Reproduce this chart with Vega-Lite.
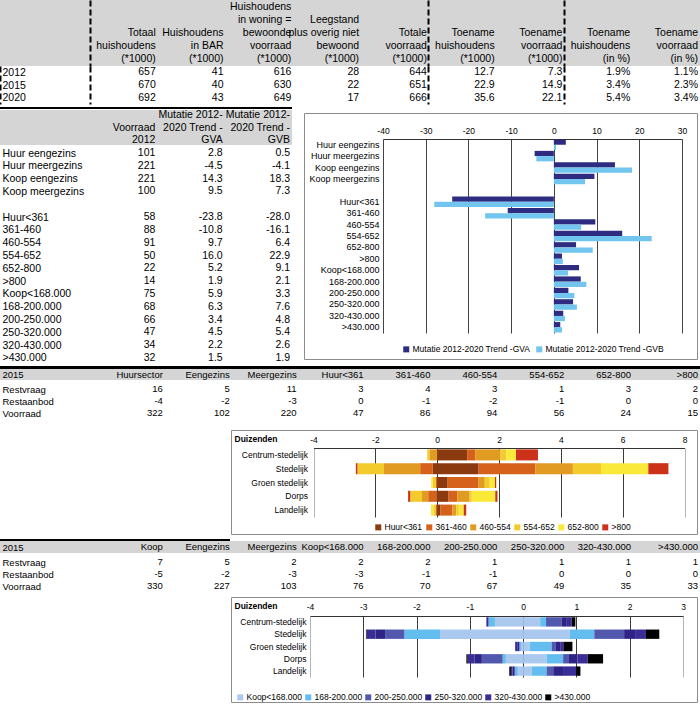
{
"$schema":"https://vega.github.io/schema/vega-lite/v6.json",
"padding":0,
"background":"white",
"spacing":0,
"resolve":{"scale":{"color":"independent"},"legend":{"color":"independent"}},
"config":{"view":{"stroke":null},"font":"Liberation Sans","axis":{"labelFont":"Liberation Sans","titleFont":"Liberation Sans"},"legend":{"labelFont":"Liberation Sans"}},
"datasets":{
"leeg":[],
"t1h":[
{"line":3,"c":"tot","t":"Totaal"},{"line":4,"c":"tot","t":"huishoudens"},{"line":5,"c":"tot","t":"(*1000)"},
{"line":3,"c":"bar","t":"Huishoudens"},{"line":4,"c":"bar","t":"in BAR"},{"line":5,"c":"bar","t":"(*1000)"},
{"line":1,"c":"won","t":"Huishoudens"},{"line":2,"c":"won","t":"in woning ="},{"line":3,"c":"won","t":"bewoonde"},{"line":4,"c":"won","t":"voorraad"},{"line":5,"c":"won","t":"(*1000)"},
{"line":2,"c":"leeg","t":"Leegstand"},{"line":3,"c":"leeg","t":"plus overig niet"},{"line":4,"c":"leeg","t":"bewoond"},{"line":5,"c":"leeg","t":"(*1000)"},
{"line":3,"c":"totv","t":"Totale"},{"line":4,"c":"totv","t":"voorraad"},{"line":5,"c":"totv","t":"(*1000)"},
{"line":3,"c":"th","t":"Toename"},{"line":4,"c":"th","t":"huishoudens"},{"line":5,"c":"th","t":"(*1000)"},
{"line":3,"c":"tv","t":"Toename"},{"line":4,"c":"tv","t":"voorraad"},{"line":5,"c":"tv","t":"(*1000)"},
{"line":3,"c":"thp","t":"Toename"},{"line":4,"c":"thp","t":"huishoudens"},{"line":5,"c":"thp","t":"(in %)"},
{"line":3,"c":"tvp","t":"Toename"},{"line":4,"c":"tvp","t":"voorraad"},{"line":5,"c":"tvp","t":"(in %)"}],
"t1b":[
{"r":"2012","c":"tot","t":"657"},{"r":"2012","c":"bar","t":"41"},{"r":"2012","c":"won","t":"616"},{"r":"2012","c":"leeg","t":"28"},{"r":"2012","c":"totv","t":"644"},{"r":"2012","c":"th","t":"12.7"},{"r":"2012","c":"tv","t":"7.3"},{"r":"2012","c":"thp","t":"1.9%"},{"r":"2012","c":"tvp","t":"1.1%"},
{"r":"2015","c":"tot","t":"670"},{"r":"2015","c":"bar","t":"40"},{"r":"2015","c":"won","t":"630"},{"r":"2015","c":"leeg","t":"22"},{"r":"2015","c":"totv","t":"651"},{"r":"2015","c":"th","t":"22.9"},{"r":"2015","c":"tv","t":"14.9"},{"r":"2015","c":"thp","t":"3.4%"},{"r":"2015","c":"tvp","t":"2.3%"},
{"r":"2020","c":"tot","t":"692"},{"r":"2020","c":"bar","t":"43"},{"r":"2020","c":"won","t":"649"},{"r":"2020","c":"leeg","t":"17"},{"r":"2020","c":"totv","t":"666"},{"r":"2020","c":"th","t":"35.6"},{"r":"2020","c":"tv","t":"22.1"},{"r":"2020","c":"thp","t":"5.4%"},{"r":"2020","c":"tvp","t":"3.4%"}],
"t2h":[
{"line":2,"c":"v","t":"Voorraad"},{"line":3,"c":"v","t":"2012"},
{"line":1,"c":"gva","t":"Mutatie 2012-"},{"line":2,"c":"gva","t":"2020 Trend -"},{"line":3,"c":"gva","t":"GVA"},
{"line":1,"c":"gvb","t":"Mutatie 2012-"},{"line":2,"c":"gvb","t":"2020 Trend -"},{"line":3,"c":"gvb","t":"GVB"}],
"t2b":[
{"r":"Huur eengezins","c":"v","t":"101"},{"r":"Huur eengezins","c":"gva","t":"2.8"},{"r":"Huur eengezins","c":"gvb","t":"0.5"},
{"r":"Huur meergezins","c":"v","t":"221"},{"r":"Huur meergezins","c":"gva","t":"-4.5"},{"r":"Huur meergezins","c":"gvb","t":"-4.1"},
{"r":"Koop eengezins","c":"v","t":"221"},{"r":"Koop eengezins","c":"gva","t":"14.3"},{"r":"Koop eengezins","c":"gvb","t":"18.3"},
{"r":"Koop meergezins","c":"v","t":"100"},{"r":"Koop meergezins","c":"gva","t":"9.5"},{"r":"Koop meergezins","c":"gvb","t":"7.3"},
{"r":"Huur<361","c":"v","t":"58"},{"r":"Huur<361","c":"gva","t":"-23.8"},{"r":"Huur<361","c":"gvb","t":"-28.0"},
{"r":"361-460","c":"v","t":"88"},{"r":"361-460","c":"gva","t":"-10.8"},{"r":"361-460","c":"gvb","t":"-16.1"},
{"r":"460-554","c":"v","t":"91"},{"r":"460-554","c":"gva","t":"9.7"},{"r":"460-554","c":"gvb","t":"6.4"},
{"r":"554-652","c":"v","t":"50"},{"r":"554-652","c":"gva","t":"16.0"},{"r":"554-652","c":"gvb","t":"22.9"},
{"r":"652-800","c":"v","t":"22"},{"r":"652-800","c":"gva","t":"5.2"},{"r":"652-800","c":"gvb","t":"9.1"},
{"r":">800","c":"v","t":"14"},{"r":">800","c":"gva","t":"1.9"},{"r":">800","c":"gvb","t":"2.1"},
{"r":"Koop<168.000","c":"v","t":"75"},{"r":"Koop<168.000","c":"gva","t":"5.9"},{"r":"Koop<168.000","c":"gvb","t":"3.3"},
{"r":"168-200.000","c":"v","t":"68"},{"r":"168-200.000","c":"gva","t":"6.3"},{"r":"168-200.000","c":"gvb","t":"7.6"},
{"r":"200-250.000","c":"v","t":"66"},{"r":"200-250.000","c":"gva","t":"3.4"},{"r":"200-250.000","c":"gvb","t":"4.8"},
{"r":"250-320.000","c":"v","t":"47"},{"r":"250-320.000","c":"gva","t":"4.5"},{"r":"250-320.000","c":"gvb","t":"5.4"},
{"r":"320-430.000","c":"v","t":"34"},{"r":"320-430.000","c":"gva","t":"2.2"},{"r":"320-430.000","c":"gvb","t":"2.6"},
{"r":">430.000","c":"v","t":"32"},{"r":">430.000","c":"gva","t":"1.5"},{"r":">430.000","c":"gvb","t":"1.9"}],
"mut":[
{"cat":"Huur eengezins","s":"GVA","v":2.8},{"cat":"Huur eengezins","s":"GVB","v":0.5},
{"cat":"Huur meergezins","s":"GVA","v":-4.5},{"cat":"Huur meergezins","s":"GVB","v":-4.1},
{"cat":"Koop eengezins","s":"GVA","v":14.3},{"cat":"Koop eengezins","s":"GVB","v":18.3},
{"cat":"Koop meergezins","s":"GVA","v":9.5},{"cat":"Koop meergezins","s":"GVB","v":7.3},
{"cat":"Huur<361","s":"GVA","v":-23.8},{"cat":"Huur<361","s":"GVB","v":-28.0},
{"cat":"361-460","s":"GVA","v":-10.8},{"cat":"361-460","s":"GVB","v":-16.1},
{"cat":"460-554","s":"GVA","v":9.7},{"cat":"460-554","s":"GVB","v":6.4},
{"cat":"554-652","s":"GVA","v":16.0},{"cat":"554-652","s":"GVB","v":22.9},
{"cat":"652-800","s":"GVA","v":5.2},{"cat":"652-800","s":"GVB","v":9.1},
{"cat":">800","s":"GVA","v":1.9},{"cat":">800","s":"GVB","v":2.1},
{"cat":"Koop<168.000","s":"GVA","v":5.9},{"cat":"Koop<168.000","s":"GVB","v":3.3},
{"cat":"168-200.000","s":"GVA","v":6.3},{"cat":"168-200.000","s":"GVB","v":7.6},
{"cat":"200-250.000","s":"GVA","v":3.4},{"cat":"200-250.000","s":"GVB","v":4.8},
{"cat":"250-320.000","s":"GVA","v":4.5},{"cat":"250-320.000","s":"GVB","v":5.4},
{"cat":"320-430.000","s":"GVA","v":2.2},{"cat":"320-430.000","s":"GVB","v":2.6},
{"cat":">430.000","s":"GVA","v":1.5},{"cat":">430.000","s":"GVB","v":1.9}],
"t3h":[
{"r":"2015","c":"Huursector","t":"Huursector"},{"r":"2015","c":"Eengezins","t":"Eengezins"},{"r":"2015","c":"Meergezins","t":"Meergezins"},{"r":"2015","c":"Huur<361","t":"Huur<361"},{"r":"2015","c":"361-460","t":"361-460"},{"r":"2015","c":"460-554","t":"460-554"},{"r":"2015","c":"554-652","t":"554-652"},{"r":"2015","c":"652-800","t":"652-800"},{"r":"2015","c":">800","t":">800"}],
"t3b":[
{"r":"Restvraag","c":"Huursector","t":"16"},{"r":"Restvraag","c":"Eengezins","t":"5"},{"r":"Restvraag","c":"Meergezins","t":"11"},{"r":"Restvraag","c":"Huur<361","t":"3"},{"r":"Restvraag","c":"361-460","t":"4"},{"r":"Restvraag","c":"460-554","t":"3"},{"r":"Restvraag","c":"554-652","t":"1"},{"r":"Restvraag","c":"652-800","t":"3"},{"r":"Restvraag","c":">800","t":"2"},
{"r":"Restaanbod","c":"Huursector","t":"-4"},{"r":"Restaanbod","c":"Eengezins","t":"-2"},{"r":"Restaanbod","c":"Meergezins","t":"-3"},{"r":"Restaanbod","c":"Huur<361","t":"0"},{"r":"Restaanbod","c":"361-460","t":"-1"},{"r":"Restaanbod","c":"460-554","t":"-2"},{"r":"Restaanbod","c":"554-652","t":"-1"},{"r":"Restaanbod","c":"652-800","t":"0"},{"r":"Restaanbod","c":">800","t":"0"},
{"r":"Voorraad","c":"Huursector","t":"322"},{"r":"Voorraad","c":"Eengezins","t":"102"},{"r":"Voorraad","c":"Meergezins","t":"220"},{"r":"Voorraad","c":"Huur<361","t":"47"},{"r":"Voorraad","c":"361-460","t":"86"},{"r":"Voorraad","c":"460-554","t":"94"},{"r":"Voorraad","c":"554-652","t":"56"},{"r":"Voorraad","c":"652-800","t":"24"},{"r":"Voorraad","c":">800","t":"15"}],
"t5h":[
{"r":"2015","c":"Koop","t":"Koop"},{"r":"2015","c":"Eengezins","t":"Eengezins"},{"r":"2015","c":"Meergezins","t":"Meergezins"},{"r":"2015","c":"Koop<168.000","t":"Koop<168.000"},{"r":"2015","c":"168-200.000","t":"168-200.000"},{"r":"2015","c":"200-250.000","t":"200-250.000"},{"r":"2015","c":"250-320.000","t":"250-320.000"},{"r":"2015","c":"320-430.000","t":"320-430.000"},{"r":"2015","c":">430.000","t":">430.000"}],
"t5b":[
{"r":"Restvraag","c":"Koop","t":"7"},{"r":"Restvraag","c":"Eengezins","t":"5"},{"r":"Restvraag","c":"Meergezins","t":"2"},{"r":"Restvraag","c":"Koop<168.000","t":"2"},{"r":"Restvraag","c":"168-200.000","t":"2"},{"r":"Restvraag","c":"200-250.000","t":"1"},{"r":"Restvraag","c":"250-320.000","t":"1"},{"r":"Restvraag","c":"320-430.000","t":"1"},{"r":"Restvraag","c":">430.000","t":"1"},
{"r":"Restaanbod","c":"Koop","t":"-5"},{"r":"Restaanbod","c":"Eengezins","t":"-2"},{"r":"Restaanbod","c":"Meergezins","t":"-3"},{"r":"Restaanbod","c":"Koop<168.000","t":"-3"},{"r":"Restaanbod","c":"168-200.000","t":"-1"},{"r":"Restaanbod","c":"200-250.000","t":"-1"},{"r":"Restaanbod","c":"250-320.000","t":"0"},{"r":"Restaanbod","c":"320-430.000","t":"0"},{"r":"Restaanbod","c":">430.000","t":"0"},
{"r":"Voorraad","c":"Koop","t":"330"},{"r":"Voorraad","c":"Eengezins","t":"227"},{"r":"Voorraad","c":"Meergezins","t":"103"},{"r":"Voorraad","c":"Koop<168.000","t":"76"},{"r":"Voorraad","c":"168-200.000","t":"70"},{"r":"Voorraad","c":"200-250.000","t":"67"},{"r":"Voorraad","c":"250-320.000","t":"49"},{"r":"Voorraad","c":"320-430.000","t":"35"},{"r":"Voorraad","c":">430.000","t":"33"}],
"huur":[
{"g":"Centrum-stedelijk","s":"Huur<361","k":1,"v":0.97},{"g":"Centrum-stedelijk","s":"361-460","k":2,"v":0.26},{"g":"Centrum-stedelijk","s":"460-554","k":3,"v":0.82},{"g":"Centrum-stedelijk","s":"554-652","k":4,"v":0.19},{"g":"Centrum-stedelijk","s":"652-800","k":5,"v":0.31},{"g":"Centrum-stedelijk","s":">800","k":6,"v":0.71},{"g":"Centrum-stedelijk","s":"460-554","k":3,"v":-0.25},{"g":"Centrum-stedelijk","s":"554-652","k":4,"v":-0.07},
{"g":"Stedelijk","s":"Huur<361","k":1,"v":1.34},{"g":"Stedelijk","s":"361-460","k":2,"v":1.83},{"g":"Stedelijk","s":"460-554","k":3,"v":1.22},{"g":"Stedelijk","s":"554-652","k":4,"v":0.91},{"g":"Stedelijk","s":"652-800","k":5,"v":1.53},{"g":"Stedelijk","s":">800","k":6,"v":0.65},{"g":"Stedelijk","s":"Huur<361","k":1,"v":-0.14},{"g":"Stedelijk","s":"361-460","k":2,"v":-0.41},{"g":"Stedelijk","s":"460-554","k":3,"v":-1.17},{"g":"Stedelijk","s":"554-652","k":4,"v":-0.86},{"g":"Stedelijk","s":">800","k":6,"v":-0.05},
{"g":"Groen stedelijk","s":"Huur<361","k":1,"v":0.34},{"g":"Groen stedelijk","s":"361-460","k":2,"v":1.0},{"g":"Groen stedelijk","s":"460-554","k":3,"v":0.2},{"g":"Groen stedelijk","s":"554-652","k":4,"v":0.16},{"g":"Groen stedelijk","s":"652-800","k":5,"v":0.17},{"g":"Groen stedelijk","s":">800","k":6,"v":0.04},{"g":"Groen stedelijk","s":"361-460","k":2,"v":-0.04},{"g":"Groen stedelijk","s":"554-652","k":4,"v":-0.1},{"g":"Groen stedelijk","s":"652-800","k":5,"v":-0.05},
{"g":"Dorps","s":"Huur<361","k":1,"v":0.37},{"g":"Dorps","s":"361-460","k":2,"v":0.28},{"g":"Dorps","s":"460-554","k":3,"v":0.4},{"g":"Dorps","s":"554-652","k":4,"v":0.07},{"g":"Dorps","s":"652-800","k":5,"v":0.76},{"g":"Dorps","s":">800","k":6,"v":0.07},{"g":"Dorps","s":"Huur<361","k":1,"v":-0.03},{"g":"Dorps","s":"361-460","k":2,"v":-0.26},{"g":"Dorps","s":"460-554","k":3,"v":-0.2},{"g":"Dorps","s":"554-652","k":4,"v":-0.38},{"g":"Dorps","s":">800","k":6,"v":-0.07},
{"g":"Landelijk","s":"Huur<361","k":1,"v":0.11},{"g":"Landelijk","s":"361-460","k":2,"v":0.38},{"g":"Landelijk","s":"460-554","k":3,"v":0.13},{"g":"Landelijk","s":"554-652","k":4,"v":0.08},{"g":"Landelijk","s":"652-800","k":5,"v":0.16},{"g":"Landelijk","s":">800","k":6,"v":0.08},{"g":"Landelijk","s":"361-460","k":2,"v":-0.04},{"g":"Landelijk","s":"554-652","k":4,"v":-0.08},{"g":"Landelijk","s":"652-800","k":5,"v":-0.08}],
"koop":[
{"g":"Centrum-stedelijk","s":"Koop<168.000","k":1,"v":0.32},{"g":"Centrum-stedelijk","s":"168-200.000","k":2,"v":0.11},{"g":"Centrum-stedelijk","s":"200-250.000","k":3,"v":0.29},{"g":"Centrum-stedelijk","s":"250-320.000","k":4,"v":0.10},{"g":"Centrum-stedelijk","s":"320-430.000","k":5,"v":0.09},{"g":"Centrum-stedelijk","s":">430.000","k":6,"v":0.07},{"g":"Centrum-stedelijk","s":"Koop<168.000","k":1,"v":-0.53},{"g":"Centrum-stedelijk","s":"168-200.000","k":2,"v":-0.12},{"g":"Centrum-stedelijk","s":"320-430.000","k":5,"v":-0.04},
{"g":"Stedelijk","s":"Koop<168.000","k":1,"v":0.875},{"g":"Stedelijk","s":"168-200.000","k":2,"v":0.46},{"g":"Stedelijk","s":"200-250.000","k":3,"v":0.56},{"g":"Stedelijk","s":"250-320.000","k":4,"v":0.22},{"g":"Stedelijk","s":"320-430.000","k":5,"v":0.19},{"g":"Stedelijk","s":">430.000","k":6,"v":0.25},{"g":"Stedelijk","s":"Koop<168.000","k":1,"v":-1.56},{"g":"Stedelijk","s":"168-200.000","k":2,"v":-0.67},{"g":"Stedelijk","s":"200-250.000","k":3,"v":-0.36},{"g":"Stedelijk","s":"250-320.000","k":4,"v":-0.18},{"g":"Stedelijk","s":"320-430.000","k":5,"v":-0.17},{"g":"Stedelijk","s":">430.000","k":6,"v":-0.01},
{"g":"Groen stedelijk","s":"Koop<168.000","k":1,"v":0.125},{"g":"Groen stedelijk","s":"168-200.000","k":2,"v":0.41},{"g":"Groen stedelijk","s":"200-250.000","k":3,"v":0.08},{"g":"Groen stedelijk","s":"250-320.000","k":4,"v":0.08},{"g":"Groen stedelijk","s":"320-430.000","k":5,"v":0.06},{"g":"Groen stedelijk","s":">430.000","k":6,"v":0.17},{"g":"Groen stedelijk","s":"Koop<168.000","k":1,"v":-0.04},{"g":"Groen stedelijk","s":"168-200.000","k":2,"v":-0.03},{"g":"Groen stedelijk","s":"250-320.000","k":4,"v":-0.03},{"g":"Groen stedelijk","s":"320-430.000","k":5,"v":-0.05},
{"g":"Dorps","s":"Koop<168.000","k":1,"v":0.44},{"g":"Dorps","s":"168-200.000","k":2,"v":0.31},{"g":"Dorps","s":"200-250.000","k":3,"v":0.11},{"g":"Dorps","s":"250-320.000","k":4,"v":0.16},{"g":"Dorps","s":"320-430.000","k":5,"v":0.19},{"g":"Dorps","s":">430.000","k":6,"v":0.29},{"g":"Dorps","s":"Koop<168.000","k":1,"v":-0.325},{"g":"Dorps","s":"168-200.000","k":2,"v":-0.06},{"g":"Dorps","s":"200-250.000","k":3,"v":-0.39},{"g":"Dorps","s":"250-320.000","k":4,"v":-0.14},{"g":"Dorps","s":"320-430.000","k":5,"v":-0.125},{"g":"Dorps","s":">430.000","k":6,"v":-0.025},
{"g":"Landelijk","s":"Koop<168.000","k":1,"v":0.16},{"g":"Landelijk","s":"168-200.000","k":2,"v":0.28},{"g":"Landelijk","s":"200-250.000","k":3,"v":0.125},{"g":"Landelijk","s":"250-320.000","k":4,"v":0.2},{"g":"Landelijk","s":"320-430.000","k":5,"v":0.23},{"g":"Landelijk","s":">430.000","k":6,"v":0.08},{"g":"Landelijk","s":"Koop<168.000","k":1,"v":-0.1},{"g":"Landelijk","s":"168-200.000","k":2,"v":-0.05},{"g":"Landelijk","s":"200-250.000","k":3,"v":-0.02},{"g":"Landelijk","s":"250-320.000","k":4,"v":-0.03},{"g":"Landelijk","s":"320-430.000","k":5,"v":-0.03},{"g":"Landelijk","s":">430.000","k":6,"v":-0.03}]
},
"vconcat":[
{"width":700,"height":66,"view":{"fill":"#d5d5d5","stroke":null},"data":{"name":"t1h"},
 "mark":{"type":"text","align":"right","baseline":"middle","dx":-2,"fontSize":10.5,"font":"Liberation Sans","color":"black"},
 "encoding":{
  "x":{"field":"c","type":"nominal","bandPosition":1,"scale":{"type":"band","domain":["tot","bar","won","leeg","totv","th","tv","thp","tvp"],"range":[90,700],"paddingInner":0,"paddingOuter":0},
   "axis":{"orient":"top","labels":false,"ticks":false,"domain":false,"title":null,"grid":true,"bandPosition":0,"gridColor":"black","gridWidth":2,"gridDash":[6,3],"gridOpacity":{"condition":{"test":"datum.value == 'tot' || datum.value == 'th' || datum.value == 'thp'","value":1},"value":0}}},
  "y":{"field":"line","type":"ordinal","scale":{"type":"point","domain":[1,2,3,4,5],"range":[0,66],"padding":0.5},"axis":null},
  "text":{"field":"t"}}},
{"width":700,"height":41,"data":{"name":"t1b"},
 "mark":{"type":"text","align":"right","baseline":"middle","dx":-2,"fontSize":10.5,"font":"Liberation Sans","color":"black"},
 "encoding":{
  "x":{"field":"c","type":"nominal","bandPosition":1,"scale":{"type":"band","domain":["tot","bar","won","leeg","totv","th","tv","thp","tvp"],"range":[90,700],"paddingInner":0,"paddingOuter":0},
   "axis":{"orient":"top","labels":false,"ticks":false,"domain":false,"title":null,"grid":true,"bandPosition":0,"gridColor":"black","gridWidth":2,"gridDash":[6,3],"gridOpacity":{"condition":{"test":"datum.value == 'tot' || datum.value == 'th' || datum.value == 'thp'","value":1},"value":0}}},
  "y":{"field":"r","type":"nominal","scale":{"type":"point","domain":["2012","2015","2020"],"range":[0,38],"padding":0.5},
   "axis":{"orient":"left","title":null,"ticks":false,"tickSize":0,"labelAlign":"left","labelPadding":-2,"labelFontSize":10.5,"labelColor":"black","domain":true,"domainColor":"black","domainWidth":2,"domainDash":[6,3]}},
  "text":{"field":"t"}}},
{"hconcat":[
  {"width":292,"height":2,"data":{"name":"leeg"},"mark":"point","view":{"fill":"black","stroke":null}},
  {"width":408,"height":2,"data":{"name":"leeg"},"mark":"point"}],"spacing":0},
{"hconcat":[
  {"vconcat":[
    {"width":292,"height":1,"data":{"name":"leeg"},"mark":"point"},
    {"width":292,"height":35,"view":{"fill":"#d5d5d5","stroke":null},"data":{"name":"t2h"},
     "mark":{"type":"text","align":"right","baseline":"middle","dx":-2,"fontSize":10.5,"font":"Liberation Sans","color":"black"},
     "encoding":{
      "x":{"field":"c","type":"nominal","bandPosition":1,"scale":{"type":"band","domain":["v","gva","gvb"],"range":[90,292],"paddingInner":0,"paddingOuter":0},"axis":null},
      "y":{"field":"line","type":"ordinal","scale":{"type":"point","domain":[1,2,3],"range":[0,35],"padding":0.4},"axis":null},
      "text":{"field":"t"}}},
    {"width":292,"height":219,"data":{"name":"t2b"},
     "mark":{"type":"text","align":"right","baseline":"middle","dx":-2,"fontSize":10.5,"font":"Liberation Sans","color":"black"},
     "encoding":{
      "x":{"field":"c","type":"nominal","bandPosition":1,"scale":{"type":"band","domain":["v","gva","gvb"],"range":[90,292],"paddingInner":0,"paddingOuter":0},"axis":null},
      "y":{"field":"r","type":"nominal","scale":{"type":"point","domain":["Huur eengezins","Huur meergezins","Koop eengezins","Koop meergezins"," ","Huur<361","361-460","460-554","554-652","652-800",">800","Koop<168.000","168-200.000","200-250.000","250-320.000","320-430.000",">430.000"],"range":[0,219],"padding":0.55},
       "axis":{"orient":"left","title":null,"ticks":false,"tickSize":0,"domain":false,"labelAlign":"left","labelPadding":-2,"labelFontSize":10.5,"labelColor":"black"}},
      "text":{"field":"t"}}}
  ],"spacing":0},
  {"width":11,"height":255,"data":{"name":"leeg"},"mark":"point"},
  {"vconcat":[
    {"width":393,"height":3,"data":{"name":"leeg"},"mark":"point"},
    {"width":393,"height":246,"view":{"stroke":"#8c8c8c","fill":"white"},"data":{"name":"mut"},
     "mark":{"type":"bar"},
     "encoding":{
      "x":{"field":"v","type":"quantitative","scale":{"domain":[-40,30],"range":[79,378],"nice":false,"zero":false},
       "axis":{"orient":"top","offset":-26,"values":[-40,-30,-20,-10,0,10,20,30],"labelExpr":"'' + datum.value","ticks":false,"labelPadding":4,"labelFontSize":8.5,"labelColor":"black","labelFlush":false,"labelOverlap":false,"domainColor":"#333","grid":true,"gridColor":"#444","title":null}},
      "y":{"field":"cat","type":"nominal","scale":{"domain":["Huur eengezins","Huur meergezins","Koop eengezins","Koop meergezins"," ","Huur<361","361-460","460-554","554-652","652-800",">800","Koop<168.000","168-200.000","200-250.000","250-320.000","320-430.000",">430.000"],"range":[26,220],"paddingInner":0.08,"paddingOuter":0.04},
       "axis":{"orient":"left","offset":-79,"ticks":false,"domain":false,"labelPadding":4,"labelFontSize":9,"labelColor":"black","title":null}},
      "yOffset":{"field":"s","type":"nominal","scale":{"domain":["GVA","GVB"],"paddingInner":0}},
      "color":{"field":"s","type":"nominal","scale":{"domain":["GVA","GVB"],"range":["#2e2c80","#72c5ee"]},
       "legend":{"orient":"none","legendX":98,"legendY":232,"direction":"horizontal","title":null,"symbolType":"square","symbolSize":36,"symbolStrokeWidth":0,"labelFontSize":8.5,"labelColor":"black","columnPadding":4,"labelOffset":2,"labelExpr":"'Mutatie 2012-2020 Trend -' + datum.label"}}}},
    {"width":393,"height":6,"data":{"name":"leeg"},"mark":"point"}
  ],"spacing":0,"resolve":{"scale":{"color":"independent"},"legend":{"color":"independent"}}}
 ],"spacing":0,"resolve":{"scale":{"color":"independent"},"legend":{"color":"independent"}}},
{"width":700,"height":3,"data":{"name":"leeg"},"mark":"point","view":{"fill":"black","stroke":null}},
{"width":700,"height":11,"view":{"fill":"#d5d5d5","stroke":null},"data":{"name":"t3h"},
 "mark":{"type":"text","align":"right","baseline":"middle","dx":-2,"fontSize":9.5,"font":"Liberation Sans Narrow, Liberation Sans","color":"black"},
 "encoding":{
  "x":{"field":"c","type":"nominal","bandPosition":1,"scale":{"type":"band","domain":["Huursector","Eengezins","Meergezins","Huur<361","361-460","460-554","554-652","652-800",">800"],"range":[98,700],"paddingInner":0,"paddingOuter":0},"axis":null},
  "y":{"field":"r","type":"nominal","scale":{"type":"point","domain":["2015"],"range":[0,11]},
   "axis":{"orient":"left","title":null,"ticks":false,"tickSize":0,"domain":false,"labelAlign":"left","labelPadding":-2,"labelFontSize":9.5,"labelFont":"Liberation Sans Narrow, Liberation Sans","labelColor":"black"}},
  "text":{"field":"t"}}},
{"width":700,"height":42,"data":{"name":"t3b"},
 "mark":{"type":"text","align":"right","baseline":"middle","dx":-2,"fontSize":9.5,"font":"Liberation Sans Narrow, Liberation Sans","color":"black"},
 "encoding":{
  "x":{"field":"c","type":"nominal","bandPosition":1,"scale":{"type":"band","domain":["Huursector","Eengezins","Meergezins","Huur<361","361-460","460-554","554-652","652-800",">800"],"range":[98,700],"paddingInner":0,"paddingOuter":0},"axis":null},
  "y":{"field":"r","type":"nominal","scale":{"type":"point","domain":["Restvraag","Restaanbod","Voorraad"],"range":[0,42],"padding":0.75},
   "axis":{"orient":"left","title":null,"ticks":false,"tickSize":0,"domain":false,"labelAlign":"left","labelPadding":-2,"labelFontSize":9.5,"labelFont":"Liberation Sans Narrow, Liberation Sans","labelColor":"black"}},
  "text":{"field":"t"}}},
{"hconcat":[
  {"width":230,"height":115,"data":{"name":"leeg"},"mark":"point"},
  {"vconcat":[
    {"width":466,"height":7,"data":{"name":"leeg"},"mark":"point"},
    {"width":466,"height":104,"view":{"stroke":"#8c8c8c","fill":"white"},"data":{"name":"huur"},
     "mark":{"type":"bar"},
     "encoding":{
      "x":{"field":"v","type":"quantitative","stack":"zero","scale":{"domain":[-4,8],"range":[82.5,453.5],"nice":false,"zero":false},
       "axis":{"orient":"top","offset":-18,"values":[-4,-2,0,2,4,6,8],"labelExpr":"'' + datum.value","ticks":false,"labelPadding":4,"labelFontSize":8.5,"labelColor":"black","labelFlush":false,"labelOverlap":false,"domainColor":"#333","grid":true,"gridColor":{"condition":{"test":"datum.value == 8 || datum.value == -4","value":"#b5b5b5"},"value":"#3c3c3c"},"title":null}},
      "y":{"field":"g","type":"nominal","scale":{"domain":["Centrum-stedelijk","Stedelijk","Groen stedelijk","Dorps","Landelijk"],"range":[18,87],"paddingInner":0.2,"paddingOuter":0.1},
       "axis":{"orient":"left","offset":-82.5,"ticks":false,"domain":false,"labelPadding":6,"labelFontSize":8.5,"labelColor":"black","title":"Duizenden","titleAngle":0,"titleX":-79.5,"titleY":8,"titleAlign":"left","titleBaseline":"middle","titleFontSize":8.5,"titleFontWeight":"bold","titleColor":"black"}},
      "color":{"field":"s","type":"nominal","scale":{"domain":["Huur<361","361-460","460-554","554-652","652-800",">800"],"range":["#8b3a10","#d5611b","#e29b22","#f3cb2c","#fbe93a","#cc3219"]},
       "legend":{"orient":"none","legendX":143,"legendY":93,"direction":"horizontal","title":null,"symbolType":"square","symbolSize":36,"symbolStrokeWidth":0,"labelFontSize":8.5,"labelColor":"black","columnPadding":2,"labelOffset":2}},
      "order":{"field":"k","type":"quantitative"}}},
    {"width":466,"height":4,"data":{"name":"leeg"},"mark":"point"}
  ],"spacing":0,"resolve":{"scale":{"color":"independent"},"legend":{"color":"independent"}}}
 ],"spacing":0,"resolve":{"scale":{"color":"independent"},"legend":{"color":"independent"}}},
{"hconcat":[
  {"width":230,"height":2,"data":{"name":"leeg"},"mark":"point","view":{"fill":"black","stroke":null}},
  {"width":470,"height":2,"data":{"name":"leeg"},"mark":"point"}],"spacing":0},
{"width":700,"height":12,"view":{"fill":"#d5d5d5","stroke":null},"data":{"name":"t5h"},
 "mark":{"type":"text","align":"right","baseline":"middle","dx":-2,"fontSize":9.5,"font":"Liberation Sans Narrow, Liberation Sans","color":"black"},
 "encoding":{
  "x":{"field":"c","type":"nominal","bandPosition":1,"scale":{"type":"band","domain":["Koop","Eengezins","Meergezins","Koop<168.000","168-200.000","200-250.000","250-320.000","320-430.000",">430.000"],"range":[98,700],"paddingInner":0,"paddingOuter":0},"axis":null},
  "y":{"field":"r","type":"nominal","scale":{"type":"point","domain":["2015"],"range":[0,12]},
   "axis":{"orient":"left","title":null,"ticks":false,"tickSize":0,"domain":false,"labelAlign":"left","labelPadding":-2,"labelFontSize":9.5,"labelFont":"Liberation Sans Narrow, Liberation Sans","labelColor":"black"}},
  "text":{"field":"t"}}},
{"width":700,"height":42,"data":{"name":"t5b"},
 "mark":{"type":"text","align":"right","baseline":"middle","dx":-2,"fontSize":9.5,"font":"Liberation Sans Narrow, Liberation Sans","color":"black"},
 "encoding":{
  "x":{"field":"c","type":"nominal","bandPosition":1,"scale":{"type":"band","domain":["Koop","Eengezins","Meergezins","Koop<168.000","168-200.000","200-250.000","250-320.000","320-430.000",">430.000"],"range":[98,700],"paddingInner":0,"paddingOuter":0},"axis":null},
  "y":{"field":"r","type":"nominal","scale":{"type":"point","domain":["Restvraag","Restaanbod","Voorraad"],"range":[0,42],"padding":0.75},
   "axis":{"orient":"left","title":null,"ticks":false,"tickSize":0,"domain":false,"labelAlign":"left","labelPadding":-2,"labelFontSize":9.5,"labelFont":"Liberation Sans Narrow, Liberation Sans","labelColor":"black"}},
  "text":{"field":"t"}}},
{"hconcat":[
  {"width":230,"height":106,"data":{"name":"leeg"},"mark":"point"},
  {"vconcat":[
    {"width":466,"height":1,"data":{"name":"leeg"},"mark":"point"},
    {"width":466,"height":105,"view":{"stroke":"#8c8c8c","fill":"white"},"data":{"name":"koop"},
     "mark":{"type":"bar"},
     "encoding":{
      "x":{"field":"v","type":"quantitative","stack":"zero","scale":{"domain":[-4,3],"range":[79,452],"nice":false,"zero":false},
       "axis":{"orient":"top","offset":-19,"values":[-4,-3,-2,-1,0,1,2,3],"labelExpr":"'' + datum.value","ticks":false,"labelPadding":5,"labelFontSize":8.5,"labelColor":"black","labelFlush":false,"labelOverlap":false,"domainColor":"#333","grid":true,"gridColor":{"condition":{"test":"datum.value == 3 || datum.value == -4","value":"#b5b5b5"},"value":"#3c3c3c"},"title":null}},
      "y":{"field":"g","type":"nominal","scale":{"domain":["Centrum-stedelijk","Stedelijk","Groen stedelijk","Dorps","Landelijk"],"range":[19,80],"paddingInner":0.24,"paddingOuter":0.1},
       "axis":{"orient":"left","offset":-79,"ticks":false,"domain":false,"labelPadding":4,"labelFontSize":8.5,"labelColor":"black","title":"Duizenden","titleAngle":0,"titleX":-76,"titleY":8,"titleAlign":"left","titleBaseline":"middle","titleFontSize":8.5,"titleFontWeight":"bold","titleColor":"black"}},
      "color":{"field":"s","type":"nominal","scale":{"domain":["Koop<168.000","168-200.000","200-250.000","250-320.000","320-430.000",">430.000"],"range":["#abc9ee","#63bdee","#5158ae","#2d2485","#3b2d98","#000000"]},
       "legend":{"orient":"none","legendX":5,"legendY":96,"direction":"horizontal","title":null,"symbolType":"square","symbolSize":36,"symbolStrokeWidth":0,"labelFontSize":8.5,"labelColor":"black","columnPadding":1,"labelOffset":2}},
      "order":{"field":"k","type":"quantitative"}}}
  ],"spacing":0,"resolve":{"scale":{"color":"independent"},"legend":{"color":"independent"}}}
 ],"spacing":0,"resolve":{"scale":{"color":"independent"},"legend":{"color":"independent"}}}
]
}
